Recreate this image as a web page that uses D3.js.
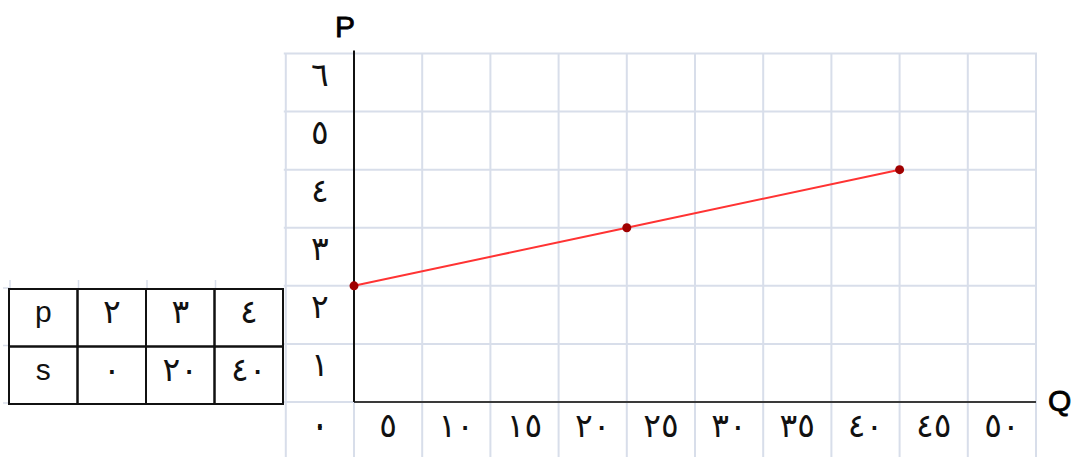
<!DOCTYPE html>
<html>
<head>
<meta charset="utf-8">
<script src="https://cdn.jsdelivr.net/npm/d3@7"></script>
<style>
  html, body { margin: 0; padding: 0; background: #ffffff; }
  svg { display: block; }
</style>
</head>
<body>
<svg id="chart" width="1071" height="457"></svg>
<script>
// ---- data ----
const supplyQ = [0, 20, 40];
const supplyP = [2, 3, 4];

const xTickValues = [0, 5, 10, 15, 20, 25, 30, 35, 40, 45, 50];
const xTickLabels = ["٠", "٥", "١٠", "١٥", "٢٠", "٢٥", "٣٠", "٣٥", "٤٠", "٤٥", "٥٠"];
const yTickValues = [0, 1, 2, 3, 4, 5, 6];
const yTickLabels = ["٠", "١", "٢", "٣", "٤", "٥", "٦"];

const tableRowHeaders = ["p", "s"];
const tableRowP = ["٢", "٣", "٤"];
const tableRowS = ["٠", "٢٠", "٤٠"];

const xAxisTitle = "Q";
const yAxisTitle = "P";

// ---- layout ----
const W = 1071, H = 457;
const svg = d3.select("#chart");
const gridColor = "#d8deea";
const arabicFont = "'DejaVu Sans', sans-serif";
const latinFont = "'Liberation Sans', Arial, sans-serif";
const digitSize = 33;

const x = d3.scaleLinear().domain([0, 50]).range([354, 1036]);
const y = d3.scaleLinear().domain([0, 6]).range([402, 53.5]);
const step = x(5) - x(0);
const rowStep = y(0) - y(1);

// grid: vertical lines (one extra column to the left of the axis)
const gridQ = [-5].concat(xTickValues);
svg.append("g").selectAll("line").data(gridQ).join("line")
  .attr("x1", d => x(d)).attr("x2", d => x(d))
  .attr("y1", y(6)).attr("y2", H)
  .attr("stroke", gridColor).attr("stroke-width", 2);

// grid: horizontal lines
svg.append("g").selectAll("line").data(yTickValues).join("line")
  .attr("x1", x(-5) - 2).attr("x2", x(50) + 1)
  .attr("y1", d => y(d)).attr("y2", d => y(d))
  .attr("stroke", gridColor).attr("stroke-width", 2);

// axes lines
svg.append("line")
  .attr("x1", x(0)).attr("x2", x(50))
  .attr("y1", y(0)).attr("y2", y(0))
  .attr("stroke", "#3a3a3a").attr("stroke-width", 2);
svg.append("line")
  .attr("x1", x(0)).attr("x2", x(0))
  .attr("y1", y(6) - 3).attr("y2", y(0))
  .attr("stroke", "#111").attr("stroke-width", 2);

// tick labels (spreadsheet style: each label sits in the cell before its value)
svg.append("g").selectAll("text").data(xTickValues).join("text")
  .attr("x", d => x(d) - step / 2)
  .attr("y", y(0) + rowStep / 2 - 6)
  .attr("text-anchor", "middle")
  .attr("dominant-baseline", "central")
  .attr("font-family", arabicFont).attr("font-size", digitSize)
  .attr("fill", "#111")
  .text((d, i) => xTickLabels[i]);

svg.append("g").selectAll("text").data(yTickValues).join("text")
  .attr("x", x(-2.5))
  .attr("y", d => y(d - 0.5) - 8)
  .attr("text-anchor", "middle")
  .attr("dominant-baseline", "central")
  .attr("font-family", arabicFont).attr("font-size", digitSize)
  .attr("fill", "#111")
  .text((d, i) => yTickLabels[i]);

// axis titles
svg.append("text")
  .attr("x", x(0) - 9).attr("y", 37)
  .attr("text-anchor", "middle")
  .attr("font-family", latinFont).attr("font-size", 30)
  .attr("fill", "#000").attr("stroke", "#000").attr("stroke-width", 0.8)
  .text(yAxisTitle);
svg.append("text")
  .attr("x", 1048).attr("y", 411)
  .attr("text-anchor", "start")
  .attr("font-family", latinFont).attr("font-size", 30)
  .attr("fill", "#000").attr("stroke", "#000").attr("stroke-width", 0.8)
  .text(xAxisTitle);

// supply line
const pts = supplyQ.map((q, i) => ({ q: q, p: supplyP[i] }));
const line = d3.line().x(d => x(d.q)).y(d => y(d.p));
svg.append("path").datum(pts)
  .attr("d", line)
  .attr("fill", "none")
  .attr("stroke", "#ff3333").attr("stroke-width", 2);
svg.append("g").selectAll("circle").data(pts).join("circle")
  .attr("cx", d => x(d.q)).attr("cy", d => y(d.p))
  .attr("r", 4.5)
  .attr("fill", "#a00000");

// ---- table ----
const tCols = d3.scaleBand().domain([0, 1, 2, 3]).range([9, 283]);
const tRows = d3.scaleBand().domain(tableRowHeaders).range([289, 404]);
const tableData = [
  [tableRowHeaders[0]].concat(tableRowP),
  [tableRowHeaders[1]].concat(tableRowS)
];

// faint spreadsheet gridline stubs around the table
const stubs = svg.append("g").attr("stroke", gridColor).attr("stroke-width", 1.5);
tCols.domain().forEach(c => {
  stubs.append("line").attr("x1", tCols(c) + 1).attr("x2", tCols(c) + 1)
    .attr("y1", 280).attr("y2", 289);
});
tRows.domain().concat(["end"]).forEach((r, i) => {
  const yy = 289 + i * tRows.bandwidth();
  stubs.append("line").attr("x1", 3).attr("x2", 9).attr("y1", yy - 1).attr("y2", yy - 1);
});

const tg = svg.append("g");
tableData.forEach((row, ri) => {
  row.forEach((cell, ci) => {
    const rowKey = tableRowHeaders[ri];
    tg.append("rect")
      .attr("x", tCols(ci)).attr("y", tRows(rowKey))
      .attr("width", tCols.bandwidth()).attr("height", tRows.bandwidth())
      .attr("fill", "none").attr("stroke", "#111").attr("stroke-width", 2);
    tg.append("text")
      .attr("x", tCols(ci) + tCols.bandwidth() / 2)
      .attr("y", tRows(rowKey) + tRows.bandwidth() / 2 - 6)
      .attr("text-anchor", "middle")
      .attr("dominant-baseline", "central")
      .attr("font-family", ci === 0 ? latinFont : arabicFont)
      .attr("font-size", ci === 0 ? 30 : digitSize)
      .attr("fill", "#111")
      .text(cell);
  });
});
</script>
</body>
</html>
